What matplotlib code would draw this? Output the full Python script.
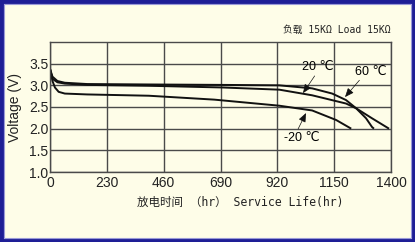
import matplotlib
matplotlib.use("Agg")
import matplotlib.pyplot as plt
from matplotlib.patches import Rectangle

# ---- data (x in chart units: evenly spaced grid, last grid labelled 1400) ----
x_ticks = [0, 230, 460, 690, 920, 1150, 1380]
x_tick_labels = ["0", "230", "460", "690", "920", "1150", "1400"]
y_ticks = [1.0, 1.5, 2.0, 2.5, 3.0, 3.5]
y_tick_labels = ["1.0", "1.5", "2.0", "2.5", "3.0", "3.5"]

t_60 = [0, 10, 30, 60, 150, 400, 700, 928, 1061, 1142, 1198, 1239, 1279, 1303, 1311]
v_60 = [3.38, 3.20, 3.10, 3.06, 3.03, 3.02, 3.01, 3.00, 2.93, 2.81, 2.66, 2.47, 2.24, 2.04, 2.00]

t_20 = [0, 10, 30, 60, 150, 400, 700, 928, 1061, 1198, 1239, 1303, 1372]
v_20 = [3.38, 3.15, 3.07, 3.04, 3.01, 2.99, 2.95, 2.90, 2.77, 2.58, 2.47, 2.24, 2.00]

t_m20 = [0, 10, 20, 35, 60, 150, 400, 665, 928, 1061, 1158, 1219]
v_m20 = [3.38, 3.10, 2.95, 2.85, 2.81, 2.79, 2.76, 2.67, 2.53, 2.42, 2.20, 2.00]

labels = ["20 ℃", "60 ℃", "-20 ℃"]

bg = "#FEFDE8"
fig = plt.figure(figsize=(4.15, 2.42), dpi=100, facecolor=bg)
ax = fig.add_axes([50/415, 1-172/242, 341/415, 130/242])
ax.set_facecolor(bg)

for t, v in [(t_60, v_60), (t_20, v_20), (t_m20, v_m20)]:
    ax.plot(t, v, color="#111111", lw=1.4, solid_capstyle="butt")

ax.set_xlim(0, 1380)
ax.set_ylim(1.0, 4.0)
ax.set_xticks(x_ticks)
ax.set_xticklabels(x_tick_labels)
ax.set_yticks(y_ticks)
ax.set_yticklabels(y_tick_labels)
ax.grid(True, color="#4a4a4a", lw=1.0)
ax.set_axisbelow(True)
for s in ax.spines.values():
    s.set_color("#4a4a4a")
    s.set_linewidth(1.0)
ax.tick_params(length=0, labelsize=10, colors="#222222")
ax.tick_params(axis="x", pad=3)
ax.tick_params(axis="y", pad=1)
for lab in ax.get_yticklabels() + ax.get_xticklabels():
    lab.set_fontfamily("Liberation Sans")

ax.set_ylabel("Voltage (V)", fontsize=10, family="Liberation Sans", color="#222222", labelpad=5)

mono = ["DejaVu Sans Mono", "Noto Sans CJK SC"]
ax.set_xlabel("放电时间 （hr） Service Life(hr)", fontsize=8.3, family=mono,
              color="#222222", labelpad=4)
ax.xaxis.label.set_x((240 - 50) / 341)

fig.text(391/415, 1-30/242, "负载 15KΩ Load 15KΩ", fontsize=7, family=mono,
         ha="right", va="center", color="#222222")

arrow = dict(arrowstyle="-|>,head_length=0.6,head_width=0.25", color="#111111",
             lw=0.5, shrinkA=0, shrinkB=0)
lab_font = ["Liberation Sans", "DejaVu Sans"]
ax.annotate(labels[0], xy=(1024, 2.82), xytext=(1085, 3.42), fontsize=9, family=lab_font,
            ha="center", va="center", arrowprops=dict(arrow, relpos=(0.45, 0)))
ax.annotate(labels[1], xy=(1194, 2.73), xytext=(1300, 3.32), fontsize=9, family=lab_font,
            ha="center", va="center", arrowprops=dict(arrow, relpos=(0.2, 0)))
ax.annotate(labels[2], xy=(1036, 2.36), xytext=(1020, 1.79), fontsize=9, family=lab_font,
            ha="center", va="center", arrowprops=dict(arrow, relpos=(0.35, 1)))

# frame
fig.patches.append(Rectangle((0, 0), 1, 1, transform=fig.transFigure, fill=False,
                             edgecolor="#1E1E96", lw=5, zorder=10))
fig.patches.append(Rectangle((4/415, 4/242), 1-8/415, 1-8/242, transform=fig.transFigure,
                             fill=False, edgecolor="#9A9AD8", lw=0.8, zorder=10))

fig.savefig("out.png", dpi=100, facecolor=bg)
